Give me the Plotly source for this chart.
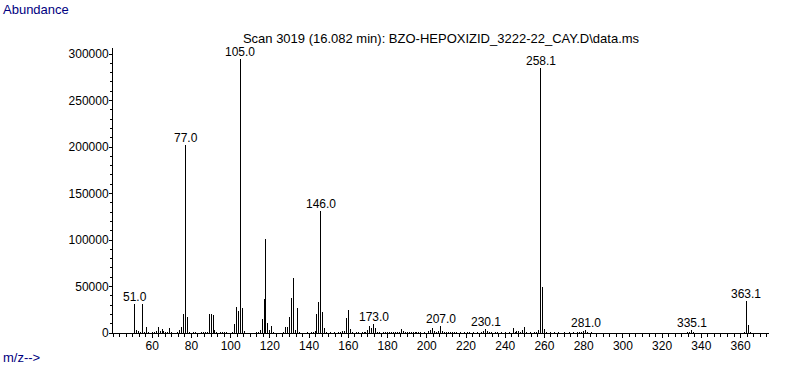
import plotly.graph_objects as go

# ---- data ----
mz = [51, 52, 53, 54, 55, 56, 57, 58, 60, 61, 62, 63, 64, 65, 66, 67, 68, 69, 70, 73, 74, 75, 76, 77, 78, 79,
      81, 82, 85, 86, 87, 88, 89, 90, 91, 92, 93, 95, 96, 97, 98, 101, 102, 103, 104, 105, 106, 107, 108,
      113, 114, 115, 116, 117, 118, 119, 120, 121, 122, 127, 128, 129, 130, 131, 132, 133, 134, 135, 137,
      139, 141, 142, 143, 144, 145, 146, 147, 148, 149, 151, 153, 155, 156, 157, 158, 159, 160, 161, 162,
      164, 165, 167, 168, 169, 170, 171, 172, 173, 174, 175, 176, 178, 179, 180, 181, 182, 183, 184, 185,
      186, 187, 188, 189, 190, 191, 192, 193, 194, 195, 196, 197, 199, 201, 202, 203, 204, 205, 206, 207,
      208, 209, 210, 211, 212, 213, 214, 215, 217, 219, 221, 222, 224, 226, 228, 229, 230, 231, 232, 233,
      235, 236, 238, 240, 242, 244, 245, 246, 247, 248, 249, 250, 251, 253, 255, 256, 257, 258, 259, 260,
      261, 263, 265, 267, 270, 273, 275, 277, 278, 279, 280, 281, 282, 284, 288, 292, 300, 310, 333, 334,
      335, 336, 362, 363, 364, 365]
abundance = [31100, 3600, 2500, 1000, 31100, 1100, 6100, 700, 700, 1100, 2100, 6100, 2500, 3900, 1800, 1400, 700,
             5000, 1100, 1400, 2900, 6100, 20400, 202000, 16800, 1100,
             700, 700, 700, 700, 1100, 1400, 20400, 20400, 19300, 2900, 700, 1100, 700, 1400, 700, 1100, 9700,
             27600, 23600, 295000, 26500, 2500, 400,
             700, 1100, 2900, 14700, 36200, 101000, 10400, 3600, 7200, 700, 1100, 6100, 6100, 16800, 37600,
             59100, 3600, 26600, 1100, 400,
             700, 700, 1100, 2500, 20400, 33300, 131000, 22600, 5400, 700, 700, 700, 1100, 700, 2100, 1800,
             16100, 24300, 4300, 1100,
             700, 700, 1100, 700, 1100, 3600, 7200, 5400, 9700, 5400, 1100, 700, 700, 1100, 700, 1100, 700,
             1100, 700, 1400,
             1100, 3900, 2500, 700, 1100, 700, 1100, 1400, 1100, 700, 1100, 700, 700, 1800, 3600, 5000, 1800,
             1100, 1800, 7200,
             1800, 700, 1400, 700, 1100, 700, 1400, 700, 700, 1100, 700, 1100, 700, 700, 1100, 2500, 4000,
             2500, 1400, 700,
             1100, 700, 700, 700, 1100, 5700, 1400, 2500, 2100, 1400, 2900, 6100, 1100, 700, 700, 1100, 2900,
             285000, 49000, 4300,
             700, 700, 700, 700, 700, 700, 1400, 700, 1400, 1100, 1800, 3000, 700, 700, 400, 400, 400, 400,
             700, 1100,
             3000, 700, 1100, 34000, 8200, 700]

label_mz = [51, 77, 105, 146, 173, 207, 230, 258, 281, 335, 363]
label_text = ["51.0", "77.0", "105.0", "146.0", "173.0", "207.0", "230.1", "258.1", "281.0", "335.1", "363.1"]

x_ticks = list(range(60, 361, 20))
y_ticks = list(range(0, 300001, 50000))

title_text = "Scan 3019 (16.082 min): BZO-HEPOXIZID_3222-22_CAY.D\\data.ms"

# ---- build stems ----
lookup = dict(zip(mz, abundance))
xs, ys = [], []
for m, a in zip(mz, abundance):
    xs += [m, m, None]
    ys += [0, a, None]

FONT = "Liberation Sans"
fig = go.Figure()
fig.add_trace(go.Scatter(x=xs, y=ys, mode="lines", line=dict(color="black", width=1),
                         hoverinfo="skip", showlegend=False))

annotations = []
for m, t in zip(label_mz, label_text):
    annotations.append(dict(x=m, y=lookup[m], xref="x", yref="y", text=t, showarrow=False,
                            yanchor="bottom", xanchor="center", yshift=-2,
                            font=dict(family=FONT, size=12, color="black")))

annotations.append(dict(x=-112 / 656, y=(333 - 9) / 285, xref="paper", yref="paper", text="Abundance",
                        showarrow=False, xanchor="left", yanchor="middle",
                        font=dict(family=FONT, size=13, color="#000080")))
annotations.append(dict(x=-112 / 656, y=(333 - 357) / 285, xref="paper", yref="paper", text="m/z-->",
                        showarrow=False, xanchor="left", yanchor="middle",
                        font=dict(family=FONT, size=13, color="#000080")))

fig.update_layout(
    width=787, height=367,
    margin=dict(l=113, r=18, t=48, b=34),
    paper_bgcolor="white", plot_bgcolor="white",
    title=dict(text=title_text, x=0.5, xref="paper", xanchor="center",
               y=1 - 38 / 367, yref="container", yanchor="middle",
               font=dict(family=FONT, size=13, color="black")),
    annotations=annotations,
    showlegend=False,
)

fig.update_xaxes(range=[40, 374.5], tickvals=x_ticks, ticktext=[str(v) for v in x_ticks],
                 ticks="outside", ticklen=4, tickcolor="black", tickwidth=1,
                 minor=dict(dtick=20 / 6, tick0=0, ticks="outside", ticklen=3, tickcolor="black"),
                 showline=True, linecolor="black", linewidth=1, showgrid=False, zeroline=False,
                 ticklabelstandoff=-2,
                 tickfont=dict(family=FONT, size=12, color="black"))
fig.update_yaxes(range=[0, 306500], tickvals=y_ticks, ticktext=[str(v) for v in y_ticks],
                 ticks="outside", ticklen=3, tickcolor="black", tickwidth=1,
                 minor=dict(dtick=10000, ticks="outside", ticklen=2, tickcolor="black"),
                 showline=True, linecolor="black", linewidth=1, showgrid=False, zeroline=False,
                 ticklabelstandoff=-2,
                 tickfont=dict(family=FONT, size=12, color="black"))

post = ("document.body.style.margin='0';document.body.style.overflow='hidden';"
        "document.querySelectorAll('.scatterlayer path').forEach(function(p){p.style.shapeRendering='crispEdges';});")
fig.write_html("out.html", post_script=post, config={"displayModeBar": False})
